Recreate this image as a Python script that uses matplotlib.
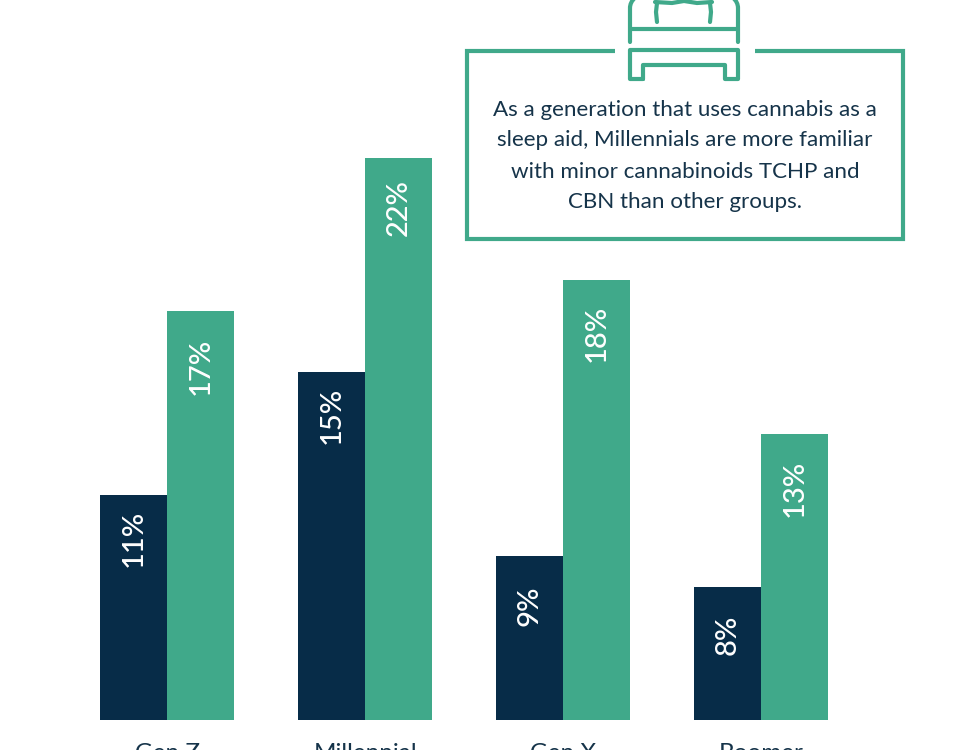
import matplotlib
matplotlib.use('Agg')
from matplotlib import pyplot as plt
from matplotlib.patches import Arc

groups = ['Gen Z', 'Millennial', 'Gen X', 'Boomer']
navy_values = [11, 15, 9, 8]
green_values = [17, 22, 18, 13]
note_lines = ['As a generation that uses cannabis as a',
              'sleep aid, Millennials are more familiar',
              'with minor cannabinoids TCHP and',
              'CBN than other groups.']

# how far each value label sits below its bar top, in pixels
navy_drop = [43, 43, 49, 48]
green_drop = [55, 50, 53, 55]

NAVY = '#072c48'
GREEN = '#40a98a'
TEXT = '#16344a'

plt.rcParams['font.family'] = ['Lato', 'DejaVu Sans']

fig = plt.figure(figsize=(9.6, 7.5), dpi=100)

# bars: value axis does not start at zero in the original
ax = fig.add_axes([0, 0, 1, 1])
base = 3.66
ax.set_xlim(-0.845, 4.003)
ax.set_ylim(2.68, 27.15)
ax.axis('off')
width = 0.338
for i in range(len(groups)):
	ax.bar(i - width / 2, navy_values[i] - base, width, bottom=base, color=NAVY)
	ax.bar(i + width / 2, green_values[i] - base, width, bottom=base, color=GREEN)
	ax.annotate('%d%%' % navy_values[i], (i - width / 2, navy_values[i]), xytext=(0, -navy_drop[i]),
		textcoords='offset pixels', rotation=90, ha='center', va='center', color='white',
		fontsize=21, fontweight='medium')
	ax.annotate('%d%%' % green_values[i], (i + width / 2, green_values[i]), xytext=(0, -green_drop[i]),
		textcoords='offset pixels', rotation=90, ha='center', va='center', color='white',
		fontsize=21, fontweight='medium')
	# the group labels run off the bottom edge in the original too
	ax.annotate(groups[i], (i, base), xytext=(0, -34), textcoords='offset pixels',
		ha='center', va='center', color=TEXT, fontsize=17.5)

# overlay in pixel coordinates for the note box and the bed icon
ov = fig.add_axes([0, 0, 1, 1], facecolor='none')
ov.set_xlim(0, 960)
ov.set_ylim(750, 0)
ov.axis('off')

lw = 3.0
box = dict(color=GREEN, lw=lw, solid_joinstyle='miter', solid_capstyle='butt')
ov.plot([615, 467, 467, 903, 903, 755], [51, 51, 239, 239, 51, 51], **box)

icon = dict(color=GREEN, lw=lw, solid_capstyle='round', solid_joinstyle='round')
# bed frame
ov.plot([630, 630], [8, 42], **icon)
ov.plot([738, 738], [8, 42], **icon)
ov.plot([630, 738], [29, 29], **icon)
ov.plot([657, 656, 657], [3, 12, 22], **icon)
ov.plot([710, 711, 710], [3, 12, 22], **icon)
ov.add_patch(Arc((646, 8), 32, 28, theta1=180, theta2=270, color=GREEN, lw=lw))
ov.add_patch(Arc((722, 8), 32, 28, theta1=270, theta2=360, color=GREEN, lw=lw))
ov.plot([655, 672, 684, 697, 712], [2, 3, 1, 3, 2], **icon)
# base and feet
ov.plot([643, 630, 630, 738, 738, 725, 725, 643, 643],
	[79, 79, 50, 50, 79, 79, 65, 65, 79], **icon)

for n, line in enumerate(note_lines):
	ov.text(685, 109.5 + 31 * n, line, ha='center', va='center', color=TEXT, fontsize=16.1)

fig.savefig('out.png', dpi=100)
